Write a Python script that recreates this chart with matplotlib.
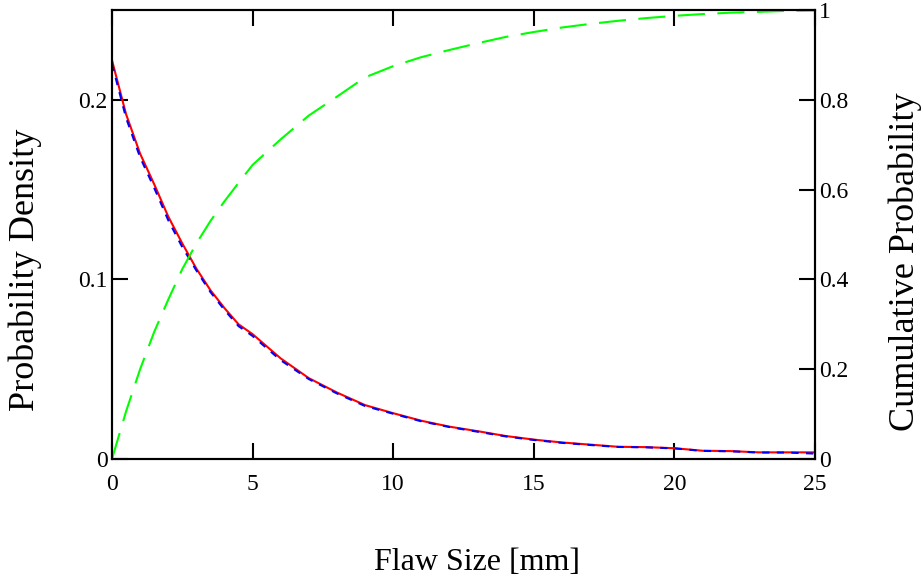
import numpy as np
import matplotlib
matplotlib.use("Agg")
import matplotlib.pyplot as plt

plt.rcParams['font.family'] = ['Liberation Serif', 'DejaVu Serif']

# flaw size grid [mm]
flaw_size = [0, 0.5, 1, 1.5, 2, 2.5, 3, 3.5, 4, 4.5, 5, 6, 7, 8, 9, 10, 11, 12,
             13, 14, 15, 16, 17, 18, 19, 20, 21, 22, 23, 24, 25]

# fitted density (red, solid)
density_fit = [0.222, 0.192, 0.170, 0.153, 0.135, 0.120, 0.106, 0.094, 0.084,
               0.075, 0.0695, 0.056, 0.045, 0.037, 0.030, 0.0255, 0.0213, 0.018,
               0.0155, 0.0128, 0.0108, 0.0092, 0.0080, 0.0068, 0.0066, 0.0060,
               0.0046, 0.0044, 0.0037, 0.0037, 0.0037]

# sampled density (blue, dashed)
density_sample = [0.220, 0.190, 0.168, 0.151, 0.133, 0.118, 0.105, 0.093, 0.083,
                  0.074, 0.0685, 0.055, 0.0445, 0.0365, 0.0295, 0.0252, 0.0210,
                  0.0178, 0.0152, 0.0126, 0.0106, 0.0090, 0.0078, 0.0067, 0.0065,
                  0.0059, 0.0045, 0.0043, 0.0036, 0.0036, 0.0030]

# cumulative probability (green, dashed)
cumulative = [0, 0.106, 0.200, 0.283, 0.355, 0.423, 0.480, 0.530, 0.574, 0.615,
              0.655, 0.712, 0.765, 0.807, 0.850, 0.875, 0.895, 0.911, 0.926,
              0.940, 0.951, 0.961, 0.969, 0.976, 0.982, 0.987, 0.991, 0.994,
              0.996, 0.998, 0.999]

x_ticks = [0, 5, 10, 15, 20, 25]
y_left_ticks = [0, 0.1, 0.2]
y_right_ticks = [0, 0.2, 0.4, 0.6, 0.8, 1]

fig = plt.figure(figsize=(9.23, 5.79), dpi=100)
ax = fig.add_axes([112/923, 1 - 459/579, (815 - 112)/923, (459 - 10)/579])
ax2 = ax.twinx()

ax.plot(flaw_size, density_fit, color="#ff0000", lw=1.5, zorder=2)
ax.plot(flaw_size, density_sample, color="#0000ff", lw=1.5, dashes=(3.5, 3.5), zorder=3)
ax2.plot(flaw_size, cumulative, color="#00ff00", lw=1.5, dashes=(13, 6))

ax.set_xlim(0, 25)
ax.set_ylim(0, 0.25)
ax2.set_ylim(0, 1)

ax.set_xticks(x_ticks)
ax.set_xticklabels([str(t) for t in x_ticks])
ax.set_yticks(y_left_ticks)
ax.set_yticklabels(["0", "0.1", "0.2"])
ax2.set_yticks(y_right_ticks)
ax2.set_yticklabels(["0", "0.2", "0.4", "0.6", "0.8", "1"])

for a in (ax, ax2):
    for s in a.spines.values():
        s.set_linewidth(1.5)
ax.tick_params(axis="x", direction="in", length=11.5, width=1.5, top=True,
               labelsize=17, pad=11)
ax.tick_params(axis="y", direction="in", length=11.5, width=1.5, labelsize=17, pad=3)
ax2.tick_params(axis="y", direction="in", length=11.5, width=1.5, labelsize=17, pad=3)

fig.text(477/923, 1 - 562/579, "Flaw Size [mm]", fontsize=23, ha="center", va="center")
fig.text(25/923, 1 - 270/579, "Probability Density", fontsize=26, rotation=90,
         ha="center", va="center")
fig.text(905/923, 1 - 262/579, "Cumulative Probability", fontsize=26, rotation=90,
         ha="center", va="center")

fig.savefig("out.png", dpi=100)
